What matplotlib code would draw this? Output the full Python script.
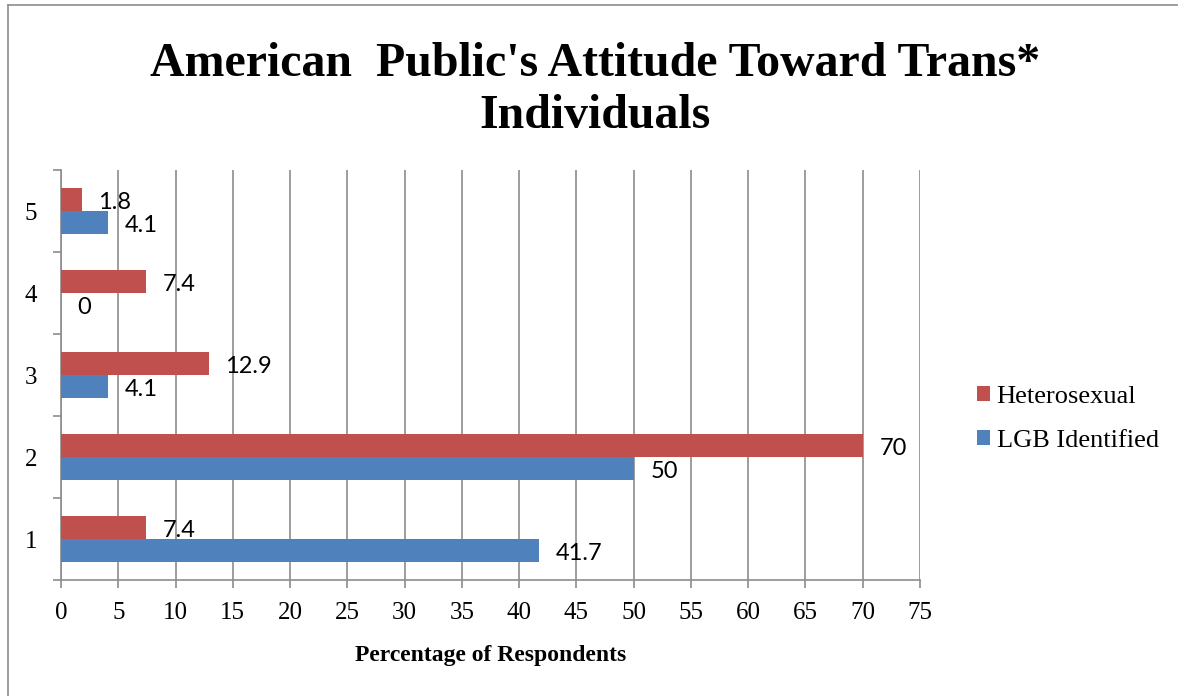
import numpy as np
import matplotlib
matplotlib.use("Agg")
import matplotlib.pyplot as plt
from matplotlib.lines import Line2D

categories = ["1", "2", "3", "4", "5"]
heterosexual = [7.4, 70, 12.9, 7.4, 1.8]
lgb = [41.7, 50, 4.1, 0, 4.1]
xticks = list(range(0, 80, 5))

red = "#C0504D"
blue = "#4F81BD"
grid_col = "#8C8C8C"
serif = "Liberation Serif"
label_font = "Lato"

fig = plt.figure(figsize=(11.78, 6.96), dpi=100)
ax = fig.add_axes([61 / 1178, 1 - 580 / 696, (920 - 61) / 1178, (580 - 170) / 696])

y = np.arange(len(categories))
h = 0.28
ax.barh(y + h / 2, heterosexual, height=h, color=red, label="Heterosexual", zorder=3)
ax.barh(y - h / 2, lgb, height=h, color=blue, label="LGB Identified", zorder=3)

for yi, v in zip(y + h / 2, heterosexual):
    ax.annotate(f"{v:g}", (v, yi), xytext=(12, -2), textcoords="offset points",
                va="center", ha="left", fontsize=17, family=label_font)
for yi, v in zip(y - h / 2, lgb):
    ax.annotate(f"{v:g}", (v, yi), xytext=(12, -2), textcoords="offset points",
                va="center", ha="left", fontsize=17, family=label_font)

ax.set_xlim(0, 75)
ax.set_ylim(-0.5, len(categories) - 0.5)
ax.set_xticks(xticks)
ax.set_xticklabels([str(t) for t in xticks], family=serif, fontsize=18)
ax.set_yticks(y)
ax.set_yticklabels(categories, family=serif, fontsize=18)
ax.set_yticks(np.arange(-0.5, len(categories), 1), minor=True)
ax.tick_params(axis="y", which="major", length=0, pad=17)
ax.tick_params(axis="y", which="minor", length=6, color=grid_col, width=1.2)
ax.tick_params(axis="x", which="major", length=6, color=grid_col, width=1.2, pad=10)
ax.grid(axis="x", color=grid_col, linewidth=1.2, zorder=0)
ax.set_axisbelow(True)
for s in ["top", "right"]:
    ax.spines[s].set_visible(False)
for s in ["left", "bottom"]:
    ax.spines[s].set_color(grid_col)
    ax.spines[s].set_linewidth(1.2)

ax.set_xlabel("Percentage of Respondents", family=serif, fontsize=17,
              fontweight="bold", labelpad=15)

fig.suptitle("American  Public's Attitude Toward Trans*\nIndividuals",
             family=serif, fontsize=34.5, fontweight="bold", y=0.94,
             x=595 / 1178, linespacing=1.25)

fig.legend(loc="center left", bbox_to_anchor=(953 / 1178, 1 - 419 / 696),
           frameon=False, prop={"family": serif, "size": 19},
           handlelength=0.5, handleheight=0.5, handletextpad=0.25,
           labelspacing=0.85)

# outer border
fig.add_artist(Line2D([8 / 1178, 8 / 1178], [0, 1 - 5 / 696], color=grid_col,
                      linewidth=1.2, transform=fig.transFigure))
fig.add_artist(Line2D([8 / 1178, 1], [1 - 5 / 696, 1 - 5 / 696], color=grid_col,
                      linewidth=1.2, transform=fig.transFigure))

fig.savefig("out.png", dpi=100)
